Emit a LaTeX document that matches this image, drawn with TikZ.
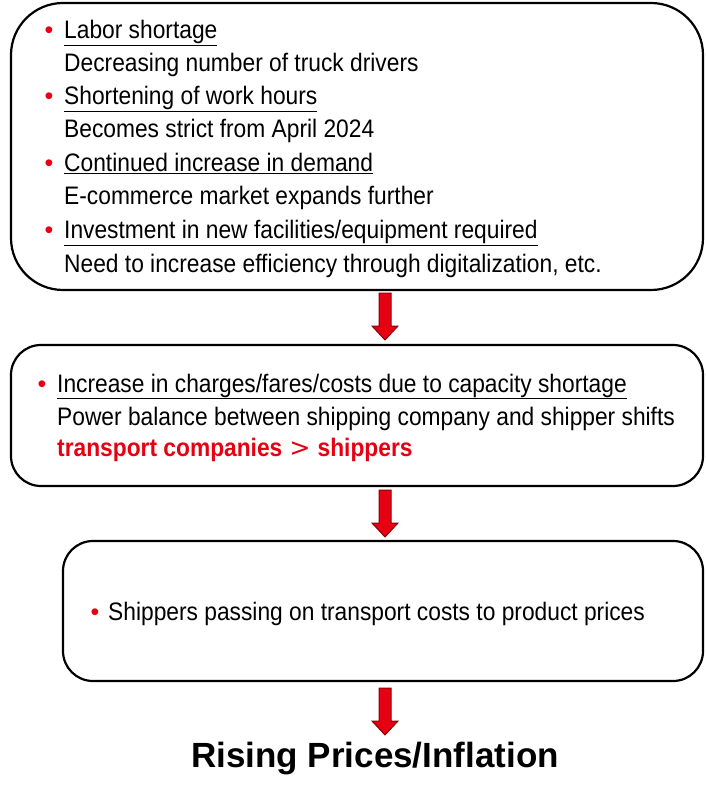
\documentclass[tikz,border=0pt]{standalone}
\usepackage{fontspec}
\setmainfont{Liberation Sans}
\newfontfamily\narrowfont{Liberation Sans}[FakeStretch=0.9]
\newfontfamily\symfont{DejaVu Sans}
\usetikzlibrary{calc}
\definecolor{bred}{RGB}{230,0,18}
\definecolor{dred}{RGB}{140,0,10}
\tikzset{
  box/.style={draw=black, line width=2.2pt},
  txt/.style={anchor=base west, inner sep=0pt, font=\narrowfont\fontsize{25.3}{30}\selectfont},
  bul/.style={anchor=base, inner sep=0pt, text=bred, font=\fontsize{25}{30}\selectfont},
  redarrow/.style={fill=bred, draw=dred, line width=1pt, line join=miter}
}
\newcommand{\ul}[1]{\underline{#1}}
\newcommand{\downarrowshape}[2]{%
  \draw[redarrow] ($(#1pt,-#2pt)+(-6pt,0)$) -- ++(12pt,0) -- ++(0,-33pt) -- ++(7pt,0)
     -- ($(#1pt,-#2pt)+(0,-47pt)$) -- ($(#1pt,-#2pt)+(-13pt,-33pt)$) -- ++(7pt,0) -- cycle;
}
\begin{document}
\begin{tikzpicture}[x=1pt,y=1pt]
\useasboundingbox (0,0) rectangle (705,-786);
% boxes
\draw[box, rounded corners=52pt] (11,-3) rectangle (703,-290);
\draw[box, rounded corners=30pt] (11,-345) rectangle (703,-486);
\draw[box, rounded corners=30pt] (63,-541) rectangle (703,-681);
% box 1 text
\node[bul] (b1) at (49,-39) {•};
\node[txt] (t1) at (64,-39) {\ul{Labor shortage}};
\node[txt] (t2) at (64,-72) {Decreasing number of truck drivers};
\node[bul] (b2) at (49,-105) {•};
\node[txt] (t3) at (64,-105) {\ul{Shortening of work hours}};
\node[txt] (t4) at (64,-138) {Becomes strict from April 2024};
\node[bul] (b3) at (49,-172) {•};
\node[txt] (t5) at (64,-172) {\ul{Continued increase in demand}};
\node[txt] (t6) at (64,-205) {E-commerce market expands further};
\node[bul] (b4) at (49,-239) {•};
\node[txt] (t7) at (64,-239) {\ul{Investment in new facilities/equipment required}};
\node[txt] (t8) at (64,-272) {Need to increase efficiency through digitalization, etc.};
% box 2 text
\node[bul] (c1) at (42,-392) {•};
\node[txt] (u1) at (57,-392) {\ul{Increase in charges/fares/costs due to capacity shortage}};
\node[txt] (u2) at (57,-425) {Power balance between shipping company and shipper shifts};
\node[txt, text=bred, font=\narrowfont\fontsize{25.3}{30}\selectfont\bfseries] (u3) at (57,-456) {transport companies\kern7pt{\symfont\mdseries >}\kern7pt shippers};
% box 3 text
\node[bul] (d1) at (95,-620) {•};
\node[txt] (v1) at (108,-620) {Shippers passing on transport costs to product prices};
% arrows
\downarrowshape{385}{293}
\downarrowshape{385}{490}
\downarrowshape{385}{688}
% title
\node[anchor=base, inner sep=0pt, font=\fontsize{35}{40}\selectfont\bfseries] (title) at (375,-767) {Rising Prices/Inflation};
\end{tikzpicture}
\end{document}
